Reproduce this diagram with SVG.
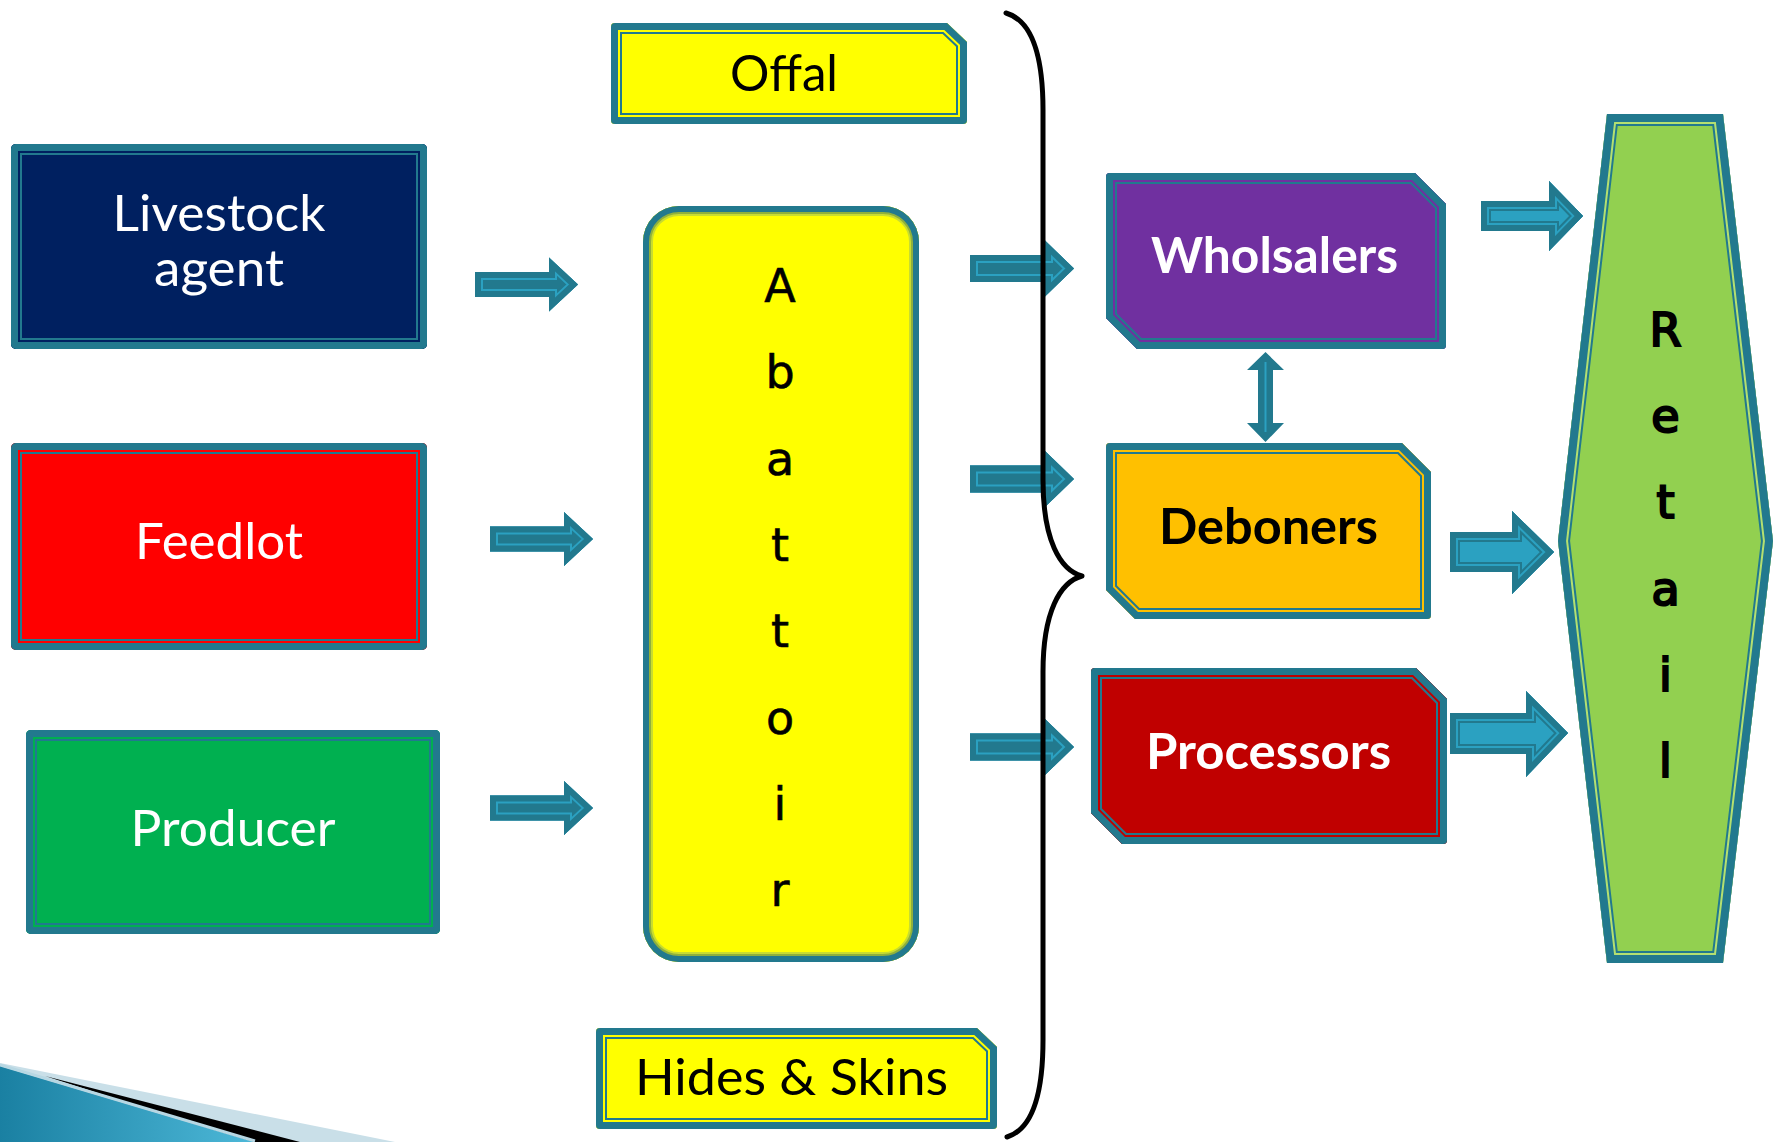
<svg xmlns="http://www.w3.org/2000/svg" xmlns:xlink="http://www.w3.org/1999/xlink" width="1775" height="1142" viewBox="0 0 1775 1142">
<style>
.fill{fill:currentColor;stroke:none}
.b1{fill:none;stroke:#22798E;stroke-width:22}
.b2{fill:none;stroke:currentColor;stroke-width:18}
.b3{fill:none;stroke:#22798E;stroke-width:14}
.lbl{font-family:Lato,"Open Sans","Liberation Sans",sans-serif;font-size:50px;text-anchor:middle}
.bold{font-weight:700}
.w{fill:#FFFFFF}
.k{fill:#000000}
.vert{font-family:"DejaVu Sans",Verdana,sans-serif;font-size:46px;text-anchor:middle;fill:#000;stroke:#000;stroke-width:0.6}
.heavy{stroke-width:2.2}
.ab1{fill:none;stroke:#22798E;stroke-width:20}
.ab2{fill:none;stroke:#2BA1C1;stroke-width:16}
.ab3{fill:none;stroke:#22798E;stroke-width:12}
.afl{fill:#2BA1C1}
.aft{fill:#22798E}
.brace{fill:none;stroke:#000;stroke-width:5;stroke-linecap:round;stroke-linejoin:round}
</style>
<defs>
<rect id="sLiv" x="11" y="144" width="416" height="205" rx="5"/>
<rect id="sFeed" x="11" y="443" width="416" height="207" rx="5"/>
<rect id="sProd" x="26" y="730" width="414" height="204" rx="5"/>
<path id="sOffal" d="M615,23 H947 L967,42 V120 Q967,124 963,124 H615 Q611,124 611,120 V27 Q611,23 615,23 Z"/>
<path id="sHides" d="M600,1028 H977 L997,1047 V1125 Q997,1129 993,1129 H600 Q596,1129 596,1125 V1032 Q596,1028 600,1028 Z"/>
<rect id="sAbat" x="643" y="206" width="276" height="756" rx="36"/>
<path id="sWhol" d="M1110,173 H1415 L1446,204 V345 Q1446,349 1442,349 H1137 L1106,318 V177 Q1106,173 1110,173 Z"/>
<path id="sDeb" d="M1110,443 H1402 L1431,472 V615 Q1431,619 1427,619 H1135 L1106,590 V447 Q1106,443 1110,443 Z"/>
<path id="sProc" d="M1095,668 H1416 L1447,699 V840 Q1447,844 1443,844 H1122 L1091,813 V672 Q1091,668 1095,668 Z"/>
<polygon id="sRet" points="1607,114 1723,114 1773,541 1723,963 1607,963 1558,541"/>
<polygon id="a1" points="475,272 549,272 549,257.5 578,284.5 549,311.5 549,297 475,297"/>
<polygon id="a2" points="490,526.5 564,526.5 564,512 593,539 564,566 564,551.5 490,551.5"/>
<polygon id="a3" points="490,795.5 564,795.5 564,781 593,808 564,835 564,820.5 490,820.5"/>
<polygon id="a4" points="970,255 1045,255 1045,240.5 1074,268.5 1045,296.5 1045,282 970,282"/>
<polygon id="a5" points="970,465.5 1045,465.5 1045,451 1074,479 1045,507 1045,492.5 970,492.5"/>
<polygon id="a6" points="970,733.5 1045,733.5 1045,719 1074,747 1045,775 1045,760.5 970,760.5"/>
<polygon id="a7" points="1481,201 1549,201 1549,181 1583,216 1549,251 1549,231 1481,231"/>
<polygon id="a8" points="1450,532 1512,532 1512,511 1554,552 1512,594 1512,572 1450,572"/>
<polygon id="a9" points="1450,713 1526,713 1526,691 1568,733 1526,777 1526,754 1450,754"/>
<clipPath id="cLiv"><use href="#sLiv"/></clipPath>
<clipPath id="cFeed"><use href="#sFeed"/></clipPath>
<clipPath id="cProd"><use href="#sProd"/></clipPath>
<clipPath id="cOffal"><use href="#sOffal"/></clipPath>
<clipPath id="cHides"><use href="#sHides"/></clipPath>
<clipPath id="cAbat"><use href="#sAbat"/></clipPath>
<clipPath id="cWhol"><use href="#sWhol"/></clipPath>
<clipPath id="cDeb"><use href="#sDeb"/></clipPath>
<clipPath id="cProc"><use href="#sProc"/></clipPath>
<clipPath id="cRet"><use href="#sRet"/></clipPath>
<clipPath id="ca1"><use href="#a1"/></clipPath>
<clipPath id="ca2"><use href="#a2"/></clipPath>
<clipPath id="ca3"><use href="#a3"/></clipPath>
<clipPath id="ca4"><use href="#a4"/></clipPath>
<clipPath id="ca5"><use href="#a5"/></clipPath>
<clipPath id="ca6"><use href="#a6"/></clipPath>
<clipPath id="ca7"><use href="#a7"/></clipPath>
<clipPath id="ca8"><use href="#a8"/></clipPath>
<clipPath id="ca9"><use href="#a9"/></clipPath>
<linearGradient id="gTeal" x1="0" y1="0" x2="1" y2="0">
<stop offset="0" stop-color="#1A80A2"/>
<stop offset="1" stop-color="#4DB8D8"/>
</linearGradient>
</defs>
<rect x="0" y="0" width="1775" height="1142" fill="#FFFFFF"/>

<g id="decoration">
<polygon points="0,1063 395,1142 0,1142" fill="#C9DFE8"/>
<polygon points="45,1076 300,1142 250,1142" fill="#000000"/>
<polygon points="0,1066 255,1142 0,1142" fill="url(#gTeal)"/>
<line x1="0" y1="1065" x2="255" y2="1141" stroke="#B7D7E3" stroke-width="3"/>
</g>

<g id="n-livestock" color="#002060">
<use href="#sLiv" class="fill"/>
<use href="#sLiv" class="b1" clip-path="url(#cLiv)"/>
<use href="#sLiv" class="b2" clip-path="url(#cLiv)"/>
<use href="#sLiv" class="b3" clip-path="url(#cLiv)"/>
<text class="lbl w" x="219" y="231" textLength="213" lengthAdjust="spacingAndGlyphs">Livestock</text>
<text class="lbl w" x="219" y="286" textLength="130" lengthAdjust="spacingAndGlyphs">agent</text>
</g>

<g id="n-feedlot" color="#FF0000">
<use href="#sFeed" class="fill"/>
<use href="#sFeed" class="b1" clip-path="url(#cFeed)"/>
<use href="#sFeed" class="b2" clip-path="url(#cFeed)"/>
<use href="#sFeed" class="b3" clip-path="url(#cFeed)"/>
<text class="lbl w" x="219" y="559" textLength="168" lengthAdjust="spacingAndGlyphs">Feedlot</text>
</g>

<g id="n-producer" color="#00B050">
<use href="#sProd" class="fill"/>
<use href="#sProd" class="b1" clip-path="url(#cProd)"/>
<use href="#sProd" class="b2" clip-path="url(#cProd)"/>
<use href="#sProd" class="b3" clip-path="url(#cProd)"/>
<text class="lbl w" x="233" y="846" textLength="205" lengthAdjust="spacingAndGlyphs">Producer</text>
</g>

<g id="n-offal" color="#FFFF00">
<use href="#sOffal" class="fill"/>
<use href="#sOffal" class="b1" clip-path="url(#cOffal)"/>
<use href="#sOffal" class="b2" clip-path="url(#cOffal)"/>
<use href="#sOffal" class="b3" clip-path="url(#cOffal)"/>
<text class="lbl k" x="784" y="91" textLength="108" lengthAdjust="spacingAndGlyphs">Offal</text>
</g>

<g id="n-abattoir" color="#FFFF00">
<use href="#sAbat" class="fill"/>
<use href="#sAbat" fill="none" stroke="#C8DC30" stroke-width="20" clip-path="url(#cAbat)"/>
<use href="#sAbat" fill="none" stroke="#8FB03C" stroke-width="16" clip-path="url(#cAbat)"/>
<use href="#sAbat" fill="none" stroke="#22798E" stroke-width="12" clip-path="url(#cAbat)"/>
<text class="vert"><tspan x="780" y="302">A</tspan><tspan x="780" y="388">b</tspan><tspan x="780" y="475">a</tspan><tspan x="780" y="561">t</tspan><tspan x="780" y="647">t</tspan><tspan x="780" y="734">o</tspan><tspan x="780" y="820">i</tspan><tspan x="780" y="906">r</tspan></text>
</g>

<g id="n-hides" color="#FFFF00">
<use href="#sHides" class="fill"/>
<use href="#sHides" class="b1" clip-path="url(#cHides)"/>
<use href="#sHides" class="b2" clip-path="url(#cHides)"/>
<use href="#sHides" class="b3" clip-path="url(#cHides)"/>
<text class="lbl k" x="791.5" y="1095" textLength="313" lengthAdjust="spacingAndGlyphs">Hides &amp; Skins</text>
</g>

<g id="n-wholsalers" color="#7030A0">
<use href="#sWhol" class="fill"/>
<use href="#sWhol" class="b1" clip-path="url(#cWhol)"/>
<use href="#sWhol" class="b2" clip-path="url(#cWhol)"/>
<use href="#sWhol" class="b3" clip-path="url(#cWhol)"/>
<text class="lbl bold w" x="1274.5" y="273" textLength="247" lengthAdjust="spacingAndGlyphs">Wholsalers</text>
</g>

<g id="n-deboners" color="#FFC000">
<use href="#sDeb" class="fill"/>
<use href="#sDeb" class="b1" clip-path="url(#cDeb)"/>
<use href="#sDeb" class="b2" clip-path="url(#cDeb)"/>
<use href="#sDeb" class="b3" clip-path="url(#cDeb)"/>
<text class="lbl bold k" x="1268.5" y="544" textLength="219" lengthAdjust="spacingAndGlyphs">Deboners</text>
</g>

<g id="n-processors" color="#C00000">
<use href="#sProc" class="fill"/>
<use href="#sProc" class="b1" clip-path="url(#cProc)"/>
<use href="#sProc" class="b2" clip-path="url(#cProc)"/>
<use href="#sProc" class="b3" clip-path="url(#cProc)"/>
<text class="lbl bold w" x="1268.5" y="769" textLength="245" lengthAdjust="spacingAndGlyphs">Processors</text>
</g>

<g id="n-retail" color="#92D050">
<use href="#sRet" class="fill"/>
<use href="#sRet" fill="none" stroke="#22798E" stroke-width="24" clip-path="url(#cRet)"/>
<use href="#sRet" fill="none" stroke="#B4E070" stroke-width="20" clip-path="url(#cRet)"/>
<use href="#sRet" fill="none" stroke="#22798E" stroke-width="16" clip-path="url(#cRet)"/>
<text class="vert heavy" font-size="47"><tspan x="1665.5" y="346">R</tspan><tspan x="1665.5" y="432">e</tspan><tspan x="1665.5" y="518">t</tspan><tspan x="1665.5" y="605">a</tspan><tspan x="1665.5" y="691">i</tspan><tspan x="1665.5" y="777">l</tspan></text>
</g>

<g id="connectors">
<g id="c1"><use href="#a1" class="aft"/><use href="#a1" class="ab2" clip-path="url(#ca1)"/><use href="#a1" class="ab3" clip-path="url(#ca1)"/></g>
<g id="c2"><use href="#a2" class="aft"/><use href="#a2" class="ab2" clip-path="url(#ca2)"/><use href="#a2" class="ab3" clip-path="url(#ca2)"/></g>
<g id="c3"><use href="#a3" class="aft"/><use href="#a3" class="ab2" clip-path="url(#ca3)"/><use href="#a3" class="ab3" clip-path="url(#ca3)"/></g>
<g id="c4"><use href="#a4" class="aft"/><use href="#a4" class="ab2" clip-path="url(#ca4)"/><use href="#a4" class="ab3" clip-path="url(#ca4)"/></g>
<g id="c5"><use href="#a5" class="aft"/><use href="#a5" class="ab2" clip-path="url(#ca5)"/><use href="#a5" class="ab3" clip-path="url(#ca5)"/></g>
<g id="c6"><use href="#a6" class="aft"/><use href="#a6" class="ab2" clip-path="url(#ca6)"/><use href="#a6" class="ab3" clip-path="url(#ca6)"/></g>
<g id="c7"><use href="#a7" class="afl"/><use href="#a7" class="ab1" clip-path="url(#ca7)"/><use href="#a7" class="ab2" clip-path="url(#ca7)"/><use href="#a7" class="ab3" clip-path="url(#ca7)"/></g>
<g id="c8"><use href="#a8" class="afl"/><use href="#a8" class="ab1" clip-path="url(#ca8)"/><use href="#a8" class="ab2" clip-path="url(#ca8)"/><use href="#a8" class="ab3" clip-path="url(#ca8)"/></g>
<g id="c9"><use href="#a9" class="afl"/><use href="#a9" class="ab1" clip-path="url(#ca9)"/><use href="#a9" class="ab2" clip-path="url(#ca9)"/><use href="#a9" class="ab3" clip-path="url(#ca9)"/></g>
<g id="c10">
<polygon points="1265.5,352 1284,370 1273,370 1273,423 1284,423 1265.5,442 1247,423 1258,423 1258,370 1247,370" fill="#22798E"/>
<line x1="1265.5" y1="362" x2="1265.5" y2="432" stroke="#2BA1C1" stroke-width="2"/>
</g>
</g>

<g id="brace">
<path class="brace" d="M1006,13 C1030,20 1043,50 1043,110 L1043,480 C1043,540 1060,570 1082,576 C1060,582 1043,612 1043,672 L1043,1040 C1043,1100 1030,1130 1007,1137"/>
</g>
</svg>
